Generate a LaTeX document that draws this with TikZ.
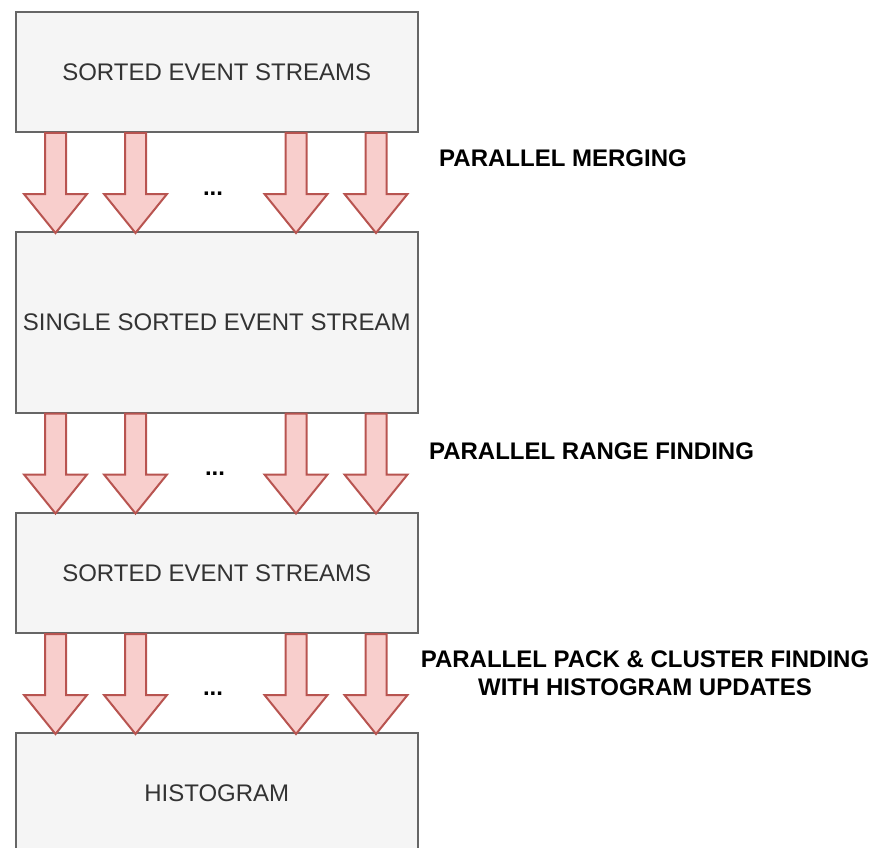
\documentclass[tikz,border=0pt]{standalone}
\usepackage{fontspec}
\setmainfont{Liberation Sans}
\usetikzlibrary{calc}
\definecolor{boxfill}{HTML}{F5F5F5}
\definecolor{boxline}{HTML}{666666}
\definecolor{boxtext}{HTML}{333333}
\definecolor{arrowfill}{HTML}{F8CECC}
\definecolor{arrowline}{HTML}{B85450}
\begin{document}
\begin{tikzpicture}[x=1pt,y=-1pt,
  stagebox/.style={draw=boxline, fill=boxfill, line width=2pt,
    minimum width=401.5pt, minimum height=120pt, inner sep=0pt,
    anchor=north west, text=boxtext, font=\fontsize{24}{28}\selectfont},
  steplabel/.style={font=\bfseries\fontsize{24}{28}\selectfont, align=center, inner sep=0pt},
  gapdots/.style={font=\bfseries\fontsize{24}{28}\selectfont, inner sep=0pt},
  blockarrow/.pic={
    \draw[draw=arrowline, fill=arrowfill, line width=2pt, line join=miter]
      (-10.5,0) -- (10.5,0) -- (10.5,61) -- (31.5,61) -- (0,100)
      -- (-31.5,61) -- (-10.5,61) -- cycle;
  }]
  \useasboundingbox (0,0) rectangle (870,848);
  \clip (0,0) rectangle (870,848);

  % processing stages
  \node[stagebox] (b1) at (15,11) {SORTED EVENT STREAMS};
  \node[stagebox, minimum height=180.5pt] (b2) at (15,231) {SINGLE SORTED EVENT STREAM};
  \node[stagebox] (b3) at (15,512) {SORTED EVENT STREAMS};
  \node[stagebox] (b4) at (15,732) {HISTOGRAM};

  % parallel block arrows between consecutive stages
  \foreach \s in {b1,b2,b3} {
    \foreach \dx in {40.5,120.5,281,361} {
      \pic at ($(\s.south west)+(\dx,0)$) {blockarrow};
    }
  }

  % ellipses between the arrow groups
  \node[gapdots] (d1) at (213,193.7) {...};
  \node[gapdots] (d2) at (215,474) {...};
  \node[gapdots] (d3) at (213,694) {...};

  % step descriptions
  \node[steplabel] (l1) at (563,158) {PARALLEL MERGING};
  \node[steplabel] (l2) at (591.5,451) {PARALLEL RANGE FINDING};
  \node[steplabel] (l3) at (645,673) {PARALLEL PACK \& CLUSTER FINDING\\WITH HISTOGRAM UPDATES};
\end{tikzpicture}
\end{document}
